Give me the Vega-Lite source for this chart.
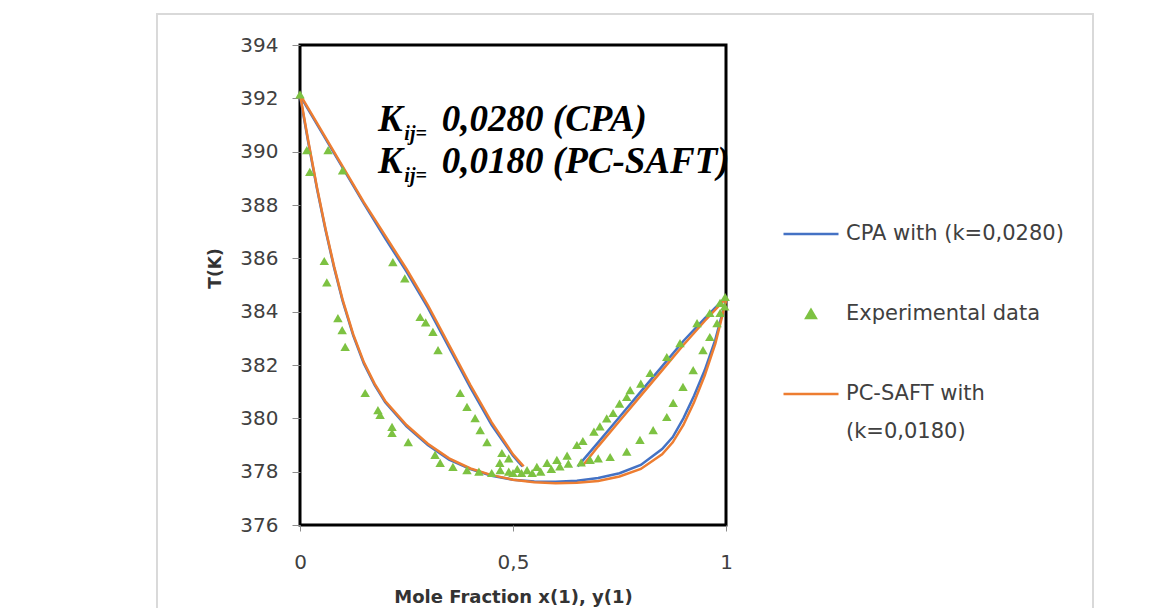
{
  "$schema": "https://vega.github.io/schema/vega-lite/v6.json",
  "autosize": {"type": "none"},
  "width": 426,
  "height": 480,
  "padding": {"left": 300, "top": 45, "right": 440, "bottom": 83},
  "background": "white",
  "config": {
    "view": {"stroke": "#000000", "strokeWidth": 3},
    "font": "DejaVu Sans"
  },
  "datasets": {
    "lines": [
      {"model": "CPA with (k=0,0280)", "branch": "cpa-dewL", "x": 0, "T": 392.1},
      {"model": "CPA with (k=0,0280)", "branch": "cpa-dewL", "x": 0.05, "T": 390.75},
      {"model": "CPA with (k=0,0280)", "branch": "cpa-dewL", "x": 0.1, "T": 389.4},
      {"model": "CPA with (k=0,0280)", "branch": "cpa-dewL", "x": 0.15, "T": 388.05},
      {"model": "CPA with (k=0,0280)", "branch": "cpa-dewL", "x": 0.2, "T": 386.75},
      {"model": "CPA with (k=0,0280)", "branch": "cpa-dewL", "x": 0.25, "T": 385.5},
      {"model": "CPA with (k=0,0280)", "branch": "cpa-dewL", "x": 0.3, "T": 384.15},
      {"model": "CPA with (k=0,0280)", "branch": "cpa-dewL", "x": 0.35, "T": 382.65},
      {"model": "CPA with (k=0,0280)", "branch": "cpa-dewL", "x": 0.4, "T": 381.15},
      {"model": "CPA with (k=0,0280)", "branch": "cpa-dewL", "x": 0.45, "T": 379.75},
      {"model": "CPA with (k=0,0280)", "branch": "cpa-dewL", "x": 0.5, "T": 378.6},
      {"model": "CPA with (k=0,0280)", "branch": "cpa-dewL", "x": 0.522, "T": 378.2},
      {"model": "CPA with (k=0,0280)", "branch": "cpa-dewR", "x": 0.652, "T": 378.2},
      {"model": "CPA with (k=0,0280)", "branch": "cpa-dewR", "x": 0.7, "T": 379.1},
      {"model": "CPA with (k=0,0280)", "branch": "cpa-dewR", "x": 0.75, "T": 380.05},
      {"model": "CPA with (k=0,0280)", "branch": "cpa-dewR", "x": 0.8, "T": 381.0},
      {"model": "CPA with (k=0,0280)", "branch": "cpa-dewR", "x": 0.85, "T": 381.95},
      {"model": "CPA with (k=0,0280)", "branch": "cpa-dewR", "x": 0.9, "T": 382.9},
      {"model": "CPA with (k=0,0280)", "branch": "cpa-dewR", "x": 0.95, "T": 383.75},
      {"model": "CPA with (k=0,0280)", "branch": "cpa-dewR", "x": 1.0, "T": 384.55},
      {"model": "CPA with (k=0,0280)", "branch": "cpa-bub", "x": 0, "T": 392.1},
      {"model": "CPA with (k=0,0280)", "branch": "cpa-bub", "x": 0.02, "T": 390.3},
      {"model": "CPA with (k=0,0280)", "branch": "cpa-bub", "x": 0.04, "T": 388.6},
      {"model": "CPA with (k=0,0280)", "branch": "cpa-bub", "x": 0.06, "T": 387.05},
      {"model": "CPA with (k=0,0280)", "branch": "cpa-bub", "x": 0.08, "T": 385.65},
      {"model": "CPA with (k=0,0280)", "branch": "cpa-bub", "x": 0.1, "T": 384.4},
      {"model": "CPA with (k=0,0280)", "branch": "cpa-bub", "x": 0.125, "T": 383.1},
      {"model": "CPA with (k=0,0280)", "branch": "cpa-bub", "x": 0.15, "T": 382.05},
      {"model": "CPA with (k=0,0280)", "branch": "cpa-bub", "x": 0.175, "T": 381.25},
      {"model": "CPA with (k=0,0280)", "branch": "cpa-bub", "x": 0.2, "T": 380.6},
      {"model": "CPA with (k=0,0280)", "branch": "cpa-bub", "x": 0.25, "T": 379.7},
      {"model": "CPA with (k=0,0280)", "branch": "cpa-bub", "x": 0.3, "T": 379.0},
      {"model": "CPA with (k=0,0280)", "branch": "cpa-bub", "x": 0.35, "T": 378.45},
      {"model": "CPA with (k=0,0280)", "branch": "cpa-bub", "x": 0.4, "T": 378.1},
      {"model": "CPA with (k=0,0280)", "branch": "cpa-bub", "x": 0.45, "T": 377.85},
      {"model": "CPA with (k=0,0280)", "branch": "cpa-bub", "x": 0.5, "T": 377.7},
      {"model": "CPA with (k=0,0280)", "branch": "cpa-bub", "x": 0.55, "T": 377.63},
      {"model": "CPA with (k=0,0280)", "branch": "cpa-bub", "x": 0.6, "T": 377.62},
      {"model": "CPA with (k=0,0280)", "branch": "cpa-bub", "x": 0.65, "T": 377.66},
      {"model": "CPA with (k=0,0280)", "branch": "cpa-bub", "x": 0.7, "T": 377.76},
      {"model": "CPA with (k=0,0280)", "branch": "cpa-bub", "x": 0.75, "T": 377.94},
      {"model": "CPA with (k=0,0280)", "branch": "cpa-bub", "x": 0.8, "T": 378.25},
      {"model": "CPA with (k=0,0280)", "branch": "cpa-bub", "x": 0.85, "T": 378.85},
      {"model": "CPA with (k=0,0280)", "branch": "cpa-bub", "x": 0.875, "T": 379.3},
      {"model": "CPA with (k=0,0280)", "branch": "cpa-bub", "x": 0.9, "T": 380.0},
      {"model": "CPA with (k=0,0280)", "branch": "cpa-bub", "x": 0.925, "T": 380.85},
      {"model": "CPA with (k=0,0280)", "branch": "cpa-bub", "x": 0.95, "T": 381.8},
      {"model": "CPA with (k=0,0280)", "branch": "cpa-bub", "x": 0.975, "T": 382.95},
      {"model": "CPA with (k=0,0280)", "branch": "cpa-bub", "x": 1.0, "T": 384.45},
      {"model": "PC-SAFT with (k=0,0180)", "branch": "pc-dewL", "x": 0, "T": 392.15},
      {"model": "PC-SAFT with (k=0,0180)", "branch": "pc-dewL", "x": 0.05, "T": 390.8},
      {"model": "PC-SAFT with (k=0,0180)", "branch": "pc-dewL", "x": 0.1, "T": 389.45},
      {"model": "PC-SAFT with (k=0,0180)", "branch": "pc-dewL", "x": 0.15, "T": 388.1},
      {"model": "PC-SAFT with (k=0,0180)", "branch": "pc-dewL", "x": 0.2, "T": 386.85},
      {"model": "PC-SAFT with (k=0,0180)", "branch": "pc-dewL", "x": 0.25, "T": 385.6},
      {"model": "PC-SAFT with (k=0,0180)", "branch": "pc-dewL", "x": 0.3, "T": 384.25},
      {"model": "PC-SAFT with (k=0,0180)", "branch": "pc-dewL", "x": 0.35, "T": 382.75},
      {"model": "PC-SAFT with (k=0,0180)", "branch": "pc-dewL", "x": 0.4, "T": 381.25},
      {"model": "PC-SAFT with (k=0,0180)", "branch": "pc-dewL", "x": 0.45, "T": 379.85},
      {"model": "PC-SAFT with (k=0,0180)", "branch": "pc-dewL", "x": 0.5, "T": 378.65},
      {"model": "PC-SAFT with (k=0,0180)", "branch": "pc-dewL", "x": 0.525, "T": 378.2},
      {"model": "PC-SAFT with (k=0,0180)", "branch": "pc-dewR", "x": 0.665, "T": 378.25},
      {"model": "PC-SAFT with (k=0,0180)", "branch": "pc-dewR", "x": 0.7, "T": 378.95},
      {"model": "PC-SAFT with (k=0,0180)", "branch": "pc-dewR", "x": 0.75, "T": 379.9},
      {"model": "PC-SAFT with (k=0,0180)", "branch": "pc-dewR", "x": 0.8, "T": 380.85},
      {"model": "PC-SAFT with (k=0,0180)", "branch": "pc-dewR", "x": 0.85, "T": 381.8},
      {"model": "PC-SAFT with (k=0,0180)", "branch": "pc-dewR", "x": 0.9, "T": 382.75},
      {"model": "PC-SAFT with (k=0,0180)", "branch": "pc-dewR", "x": 0.95, "T": 383.65},
      {"model": "PC-SAFT with (k=0,0180)", "branch": "pc-dewR", "x": 1.0, "T": 384.5},
      {"model": "PC-SAFT with (k=0,0180)", "branch": "pc-bub", "x": 0, "T": 392.15},
      {"model": "PC-SAFT with (k=0,0180)", "branch": "pc-bub", "x": 0.02, "T": 390.35},
      {"model": "PC-SAFT with (k=0,0180)", "branch": "pc-bub", "x": 0.04, "T": 388.65},
      {"model": "PC-SAFT with (k=0,0180)", "branch": "pc-bub", "x": 0.06, "T": 387.1},
      {"model": "PC-SAFT with (k=0,0180)", "branch": "pc-bub", "x": 0.08, "T": 385.7},
      {"model": "PC-SAFT with (k=0,0180)", "branch": "pc-bub", "x": 0.1, "T": 384.45},
      {"model": "PC-SAFT with (k=0,0180)", "branch": "pc-bub", "x": 0.125, "T": 383.15},
      {"model": "PC-SAFT with (k=0,0180)", "branch": "pc-bub", "x": 0.15, "T": 382.1},
      {"model": "PC-SAFT with (k=0,0180)", "branch": "pc-bub", "x": 0.175, "T": 381.3},
      {"model": "PC-SAFT with (k=0,0180)", "branch": "pc-bub", "x": 0.2, "T": 380.65},
      {"model": "PC-SAFT with (k=0,0180)", "branch": "pc-bub", "x": 0.25, "T": 379.75},
      {"model": "PC-SAFT with (k=0,0180)", "branch": "pc-bub", "x": 0.3, "T": 379.05},
      {"model": "PC-SAFT with (k=0,0180)", "branch": "pc-bub", "x": 0.35, "T": 378.5},
      {"model": "PC-SAFT with (k=0,0180)", "branch": "pc-bub", "x": 0.4, "T": 378.12},
      {"model": "PC-SAFT with (k=0,0180)", "branch": "pc-bub", "x": 0.45, "T": 377.87},
      {"model": "PC-SAFT with (k=0,0180)", "branch": "pc-bub", "x": 0.5, "T": 377.7},
      {"model": "PC-SAFT with (k=0,0180)", "branch": "pc-bub", "x": 0.55, "T": 377.6},
      {"model": "PC-SAFT with (k=0,0180)", "branch": "pc-bub", "x": 0.6, "T": 377.57},
      {"model": "PC-SAFT with (k=0,0180)", "branch": "pc-bub", "x": 0.65, "T": 377.58},
      {"model": "PC-SAFT with (k=0,0180)", "branch": "pc-bub", "x": 0.7, "T": 377.65},
      {"model": "PC-SAFT with (k=0,0180)", "branch": "pc-bub", "x": 0.75, "T": 377.82},
      {"model": "PC-SAFT with (k=0,0180)", "branch": "pc-bub", "x": 0.8, "T": 378.1},
      {"model": "PC-SAFT with (k=0,0180)", "branch": "pc-bub", "x": 0.85, "T": 378.65},
      {"model": "PC-SAFT with (k=0,0180)", "branch": "pc-bub", "x": 0.875, "T": 379.1},
      {"model": "PC-SAFT with (k=0,0180)", "branch": "pc-bub", "x": 0.9, "T": 379.75},
      {"model": "PC-SAFT with (k=0,0180)", "branch": "pc-bub", "x": 0.925, "T": 380.6},
      {"model": "PC-SAFT with (k=0,0180)", "branch": "pc-bub", "x": 0.95, "T": 381.6},
      {"model": "PC-SAFT with (k=0,0180)", "branch": "pc-bub", "x": 0.975, "T": 382.8},
      {"model": "PC-SAFT with (k=0,0180)", "branch": "pc-bub", "x": 1.0, "T": 384.4}
    ],
    "exp": [
      {"model": "Experimental data", "x": 0, "T": 392.15},
      {"model": "Experimental data", "x": 0.066, "T": 390.06},
      {"model": "Experimental data", "x": 0.1, "T": 389.3},
      {"model": "Experimental data", "x": 0.218, "T": 385.86},
      {"model": "Experimental data", "x": 0.246, "T": 385.25},
      {"model": "Experimental data", "x": 0.282, "T": 383.8},
      {"model": "Experimental data", "x": 0.295, "T": 383.6},
      {"model": "Experimental data", "x": 0.312, "T": 383.24},
      {"model": "Experimental data", "x": 0.324, "T": 382.56},
      {"model": "Experimental data", "x": 0.376, "T": 380.95},
      {"model": "Experimental data", "x": 0.392, "T": 380.43},
      {"model": "Experimental data", "x": 0.411, "T": 380.01},
      {"model": "Experimental data", "x": 0.423, "T": 379.56},
      {"model": "Experimental data", "x": 0.439, "T": 379.11},
      {"model": "Experimental data", "x": 0.474, "T": 378.7},
      {"model": "Experimental data", "x": 0.469, "T": 378.33},
      {"model": "Experimental data", "x": 0.49, "T": 378.5},
      {"model": "Experimental data", "x": 0.016, "T": 390.06},
      {"model": "Experimental data", "x": 0.023, "T": 389.24},
      {"model": "Experimental data", "x": 0.057, "T": 385.9},
      {"model": "Experimental data", "x": 0.063, "T": 385.1},
      {"model": "Experimental data", "x": 0.089, "T": 383.76},
      {"model": "Experimental data", "x": 0.099, "T": 383.31},
      {"model": "Experimental data", "x": 0.106, "T": 382.68},
      {"model": "Experimental data", "x": 0.153, "T": 380.95},
      {"model": "Experimental data", "x": 0.183, "T": 380.31},
      {"model": "Experimental data", "x": 0.188, "T": 380.13},
      {"model": "Experimental data", "x": 0.216, "T": 379.68},
      {"model": "Experimental data", "x": 0.216, "T": 379.45},
      {"model": "Experimental data", "x": 0.254, "T": 379.11},
      {"model": "Experimental data", "x": 0.317, "T": 378.63},
      {"model": "Experimental data", "x": 0.329, "T": 378.33},
      {"model": "Experimental data", "x": 0.359, "T": 378.18},
      {"model": "Experimental data", "x": 0.392, "T": 378.06},
      {"model": "Experimental data", "x": 0.42, "T": 378.0},
      {"model": "Experimental data", "x": 0.45, "T": 377.95},
      {"model": "Experimental data", "x": 0.47, "T": 378.06},
      {"model": "Experimental data", "x": 0.49, "T": 378.0},
      {"model": "Experimental data", "x": 0.5, "T": 377.95},
      {"model": "Experimental data", "x": 0.51, "T": 378.1},
      {"model": "Experimental data", "x": 0.52, "T": 377.95},
      {"model": "Experimental data", "x": 0.533, "T": 378.06},
      {"model": "Experimental data", "x": 0.545, "T": 377.95},
      {"model": "Experimental data", "x": 0.556, "T": 378.18},
      {"model": "Experimental data", "x": 0.565, "T": 378.0},
      {"model": "Experimental data", "x": 0.58, "T": 378.33},
      {"model": "Experimental data", "x": 0.59, "T": 378.1},
      {"model": "Experimental data", "x": 0.603, "T": 378.44},
      {"model": "Experimental data", "x": 0.61, "T": 378.2},
      {"model": "Experimental data", "x": 0.627, "T": 378.6},
      {"model": "Experimental data", "x": 0.63, "T": 378.3},
      {"model": "Experimental data", "x": 0.65, "T": 379.0},
      {"model": "Experimental data", "x": 0.664, "T": 379.15},
      {"model": "Experimental data", "x": 0.69, "T": 379.5},
      {"model": "Experimental data", "x": 0.704, "T": 379.7},
      {"model": "Experimental data", "x": 0.72, "T": 380.0},
      {"model": "Experimental data", "x": 0.735, "T": 380.2},
      {"model": "Experimental data", "x": 0.75, "T": 380.55},
      {"model": "Experimental data", "x": 0.767, "T": 380.8},
      {"model": "Experimental data", "x": 0.775, "T": 381.06},
      {"model": "Experimental data", "x": 0.8, "T": 381.3},
      {"model": "Experimental data", "x": 0.822, "T": 381.7},
      {"model": "Experimental data", "x": 0.861, "T": 382.3},
      {"model": "Experimental data", "x": 0.892, "T": 382.82},
      {"model": "Experimental data", "x": 0.932, "T": 383.57},
      {"model": "Experimental data", "x": 0.962, "T": 383.95},
      {"model": "Experimental data", "x": 0.986, "T": 384.33},
      {"model": "Experimental data", "x": 0.998, "T": 384.55},
      {"model": "Experimental data", "x": 0.66, "T": 378.35},
      {"model": "Experimental data", "x": 0.681, "T": 378.44},
      {"model": "Experimental data", "x": 0.7, "T": 378.5},
      {"model": "Experimental data", "x": 0.728, "T": 378.55},
      {"model": "Experimental data", "x": 0.767, "T": 378.75},
      {"model": "Experimental data", "x": 0.798, "T": 379.19},
      {"model": "Experimental data", "x": 0.829, "T": 379.56},
      {"model": "Experimental data", "x": 0.861, "T": 380.05},
      {"model": "Experimental data", "x": 0.876, "T": 380.58},
      {"model": "Experimental data", "x": 0.899, "T": 381.18},
      {"model": "Experimental data", "x": 0.923, "T": 381.81},
      {"model": "Experimental data", "x": 0.946, "T": 382.56},
      {"model": "Experimental data", "x": 0.962, "T": 383.05},
      {"model": "Experimental data", "x": 0.979, "T": 383.57},
      {"model": "Experimental data", "x": 0.986, "T": 383.95},
      {"model": "Experimental data", "x": 0.997, "T": 384.2}
    ],
    "big": [
      {"t": "K", "x": 0.183, "T": 390.775},
      {"t": "0,0280 (CPA)", "x": 0.333, "T": 390.775},
      {"t": "K", "x": 0.183, "T": 389.2},
      {"t": "0,0180 (PC-SAFT)", "x": 0.333, "T": 389.2}
    ],
    "small": [
      {"t": "ij=", "x": 0.245, "T": 390.44},
      {"t": "ij=", "x": 0.245, "T": 388.86}
    ]
  },
  "encoding": {
    "x": {
      "field": "x", "type": "quantitative",
      "scale": {"domain": [0, 1], "nice": false, "zero": false},
      "axis": {
        "values": [0, 0.5, 1],
        "labelExpr": "replace(format(datum.value, '~g'), '.', ',')",
        "labelFlush": false,
        "domain": false, "grid": false,
        "tickSize": 6, "tickColor": "#8c8c8c",
        "labelPadding": 21, "labelFont": "DejaVu Sans", "labelFontSize": 20, "labelColor": "#404040",
        "title": "Mole Fraction x(1), y(1)",
        "titleFont": "DejaVu Sans", "titleFontSize": 18, "titleFontWeight": "bold", "titleColor": "#333333",
        "titleX": 213, "titleY": 63, "titleBaseline": "top", "titleAlign": "center"
      }
    },
    "y": {
      "field": "T", "type": "quantitative",
      "scale": {"domain": [376, 394], "nice": false, "zero": false},
      "axis": {
        "values": [376, 378, 380, 382, 384, 386, 388, 390, 392, 394],
        "format": "d",
        "domain": false, "grid": false,
        "tickSize": 8, "tickColor": "#8c8c8c",
        "labelPadding": 14, "labelFont": "DejaVu Sans", "labelFontSize": 20, "labelColor": "#404040",
        "title": "T(K)",
        "titleFont": "DejaVu Sans", "titleFontSize": 17, "titleFontWeight": "bold", "titleColor": "#333333",
        "titleX": -85, "titleY": 223, "titleAngle": -90, "titleAlign": "center", "titleBaseline": "middle"
      }
    }
  },
  "layer": [
    {
      "data": {"name": "lines"},
      "mark": {"type": "line", "strokeWidth": 2.5},
      "encoding": {
        "detail": {"field": "branch"},
        "order": {"field": "x", "type": "quantitative"},
        "color": {
          "field": "model", "type": "nominal",
          "scale": {
            "domain": ["CPA with (k=0,0280)", "Experimental data", "PC-SAFT with (k=0,0180)"],
            "range": ["#4472C4", "#7DC242", "#ED7D31"]
          },
          "sort": ["CPA with (k=0,0280)", "Experimental data", "PC-SAFT with (k=0,0180)"],
          "legend": {
            "title": null,
            "orient": "none",
            "legendX": 482,
            "legendY": 160,
            "symbolSize": 3025,
            "symbolType": "stroke",
            "symbolStrokeWidth": 2.5,
            "labelFont": "DejaVu Sans",
            "labelFontSize": 21,
            "labelColor": "#404040",
            "labelOffset": 6,
            "labelLimit": 400,
            "rowPadding": 41,
            "labelExpr": "datum.value == 'PC-SAFT with (k=0,0180)' ? ['PC-SAFT with', '(k=0,0180)'] : datum.label",
            "encode": {
              "symbols": {
                "update": {
                  "shape": {"signal": "datum.value == 'Experimental data' ? 'triangle-up' : 'stroke'"},
                  "size": {"signal": "datum.value == 'Experimental data' ? 90 : 3025"},
                  "fill": {"signal": "datum.value == 'Experimental data' ? '#7DC242' : 'transparent'"},
                  "stroke": {"signal": "datum.value == 'Experimental data' ? 'transparent' : (datum.value == 'CPA with (k=0,0280)' ? '#4472C4' : '#ED7D31')"},
                  "strokeWidth": {"value": 2.5},
                  "opacity": {"value": 1}
                }
              },
              "labels": {
                "update": {"lineHeight": {"value": 38}}
              }
            }
          }
        }
      }
    },
    {
      "data": {"name": "exp"},
      "mark": {"type": "point", "shape": "triangle-up", "filled": true, "size": 90, "opacity": 1},
      "encoding": {
        "color": {
          "field": "model", "type": "nominal",
          "scale": {
            "domain": ["CPA with (k=0,0280)", "Experimental data", "PC-SAFT with (k=0,0180)"],
            "range": ["#4472C4", "#7DC242", "#ED7D31"]
          }
        }
      }
    },
    {
      "data": {"name": "big"},
      "mark": {"type": "text", "align": "left", "baseline": "alphabetic", "font": "Liberation Serif", "fontSize": 37, "fontStyle": "italic", "fontWeight": "bold", "color": "#000000"},
      "encoding": {"text": {"field": "t"}}
    },
    {
      "data": {"name": "small"},
      "mark": {"type": "text", "align": "left", "baseline": "alphabetic", "font": "Liberation Serif", "fontSize": 20, "fontStyle": "italic", "fontWeight": "bold", "color": "#000000"},
      "encoding": {"text": {"field": "t"}}
    },
    {
      "data": {"name": "big"},
      "mark": {"type": "rect", "filled": false, "stroke": "#d9d9d9", "strokeWidth": 1.5},
      "encoding": {
        "x": {"datum": -0.3357, "type": "quantitative"},
        "x2": {"datum": 1.8615},
        "y": {"datum": 395.16, "type": "quantitative"},
        "y2": {"datum": 372.4}
      }
    }
  ]
}
